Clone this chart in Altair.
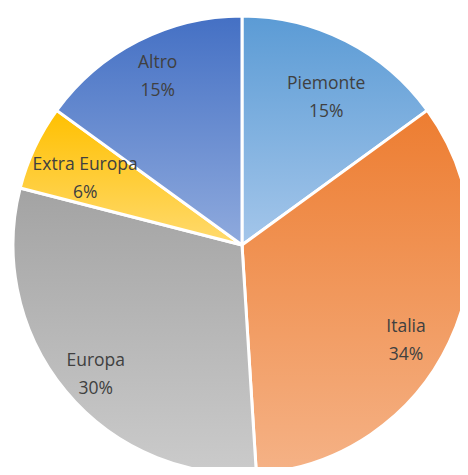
import altair as alt
import pandas as pd

categories = ["Piemonte", "Italia", "Europa", "Extra Europa", "Altro"]
values = [15, 34, 30, 6, 15]
labels = ["15%", "34%", "30%", "6%", "15%"]

df = pd.DataFrame({"cat": categories, "val": values, "lab": labels, "order": list(range(len(categories)))})

grad = {
    "Piemonte": ("#5B9BD5", "#A4C6EA"),
    "Italia": ("#ED7D31", "#F5B286"),
    "Europa": ("#A3A3A3", "#CBCBCB"),
    "Extra Europa": ("#FFC000", "#FFDA6E"),
    "Altro": ("#4470C4", "#8FAADD"),
}
# label placement tweaks: (radius, dx, dy)
label_pos = {
    "Piemonte": (170, 7, -10),
    "Italia": (189, -7, 2),
    "Europa": (195, 4, -8),
    "Extra Europa": (170, -3, -8),
    "Altro": (188, 1, -14),
}

CX, CY, R = 234, 237, 229

base = alt.Chart(df).transform_window(
    end="sum(val)", sort=[alt.SortField("order")], frame=[None, 0]
).transform_calculate(
    start="datum.end - datum.val",
    mid="datum.end - datum.val/2",
    txt="[datum.cat, datum.lab]",
)

theta_scale = alt.Scale(domain=[0, 100], range=[0, 6.283185307179586])

layers = []
for c in categories:
    top, bot = grad[c]
    g = alt.LinearGradient(
        gradient="linear",
        stops=[alt.GradientStop(color=top, offset=0), alt.GradientStop(color=bot, offset=1)],
        x1=0, x2=0, y1=0, y2=1,
    )
    layers.append(
        base.transform_filter(alt.datum.cat == c)
        .mark_arc(fill=g, stroke="white", strokeWidth=3, outerRadius=R)
        .encode(
            theta=alt.Theta("start:Q", scale=theta_scale, stack=None),
            theta2="end:Q",
            x=alt.value(CX),
            y=alt.value(CY),
        )
    )
for c in categories:
    r, dx, dy = label_pos[c]
    layers.append(
        base.transform_filter(alt.datum.cat == c)
        .mark_text(font="Open Sans", fontSize=17.5, color="#404040", lineHeight=28,
                   radius=r, align="center", baseline="middle", dx=dx, dy=dy)
        .encode(
            theta=alt.Theta("mid:Q", scale=theta_scale, stack=None),
            text="txt:N",
            x=alt.value(CX),
            y=alt.value(CY),
        )
    )

chart = alt.layer(*layers).properties(
    width=452, height=459, padding=0, autosize=alt.AutoSizeParams(type="none")
).configure_view(stroke=None)

chart.save("out.html", embed_options={"renderer": "svg", "actions": False})
